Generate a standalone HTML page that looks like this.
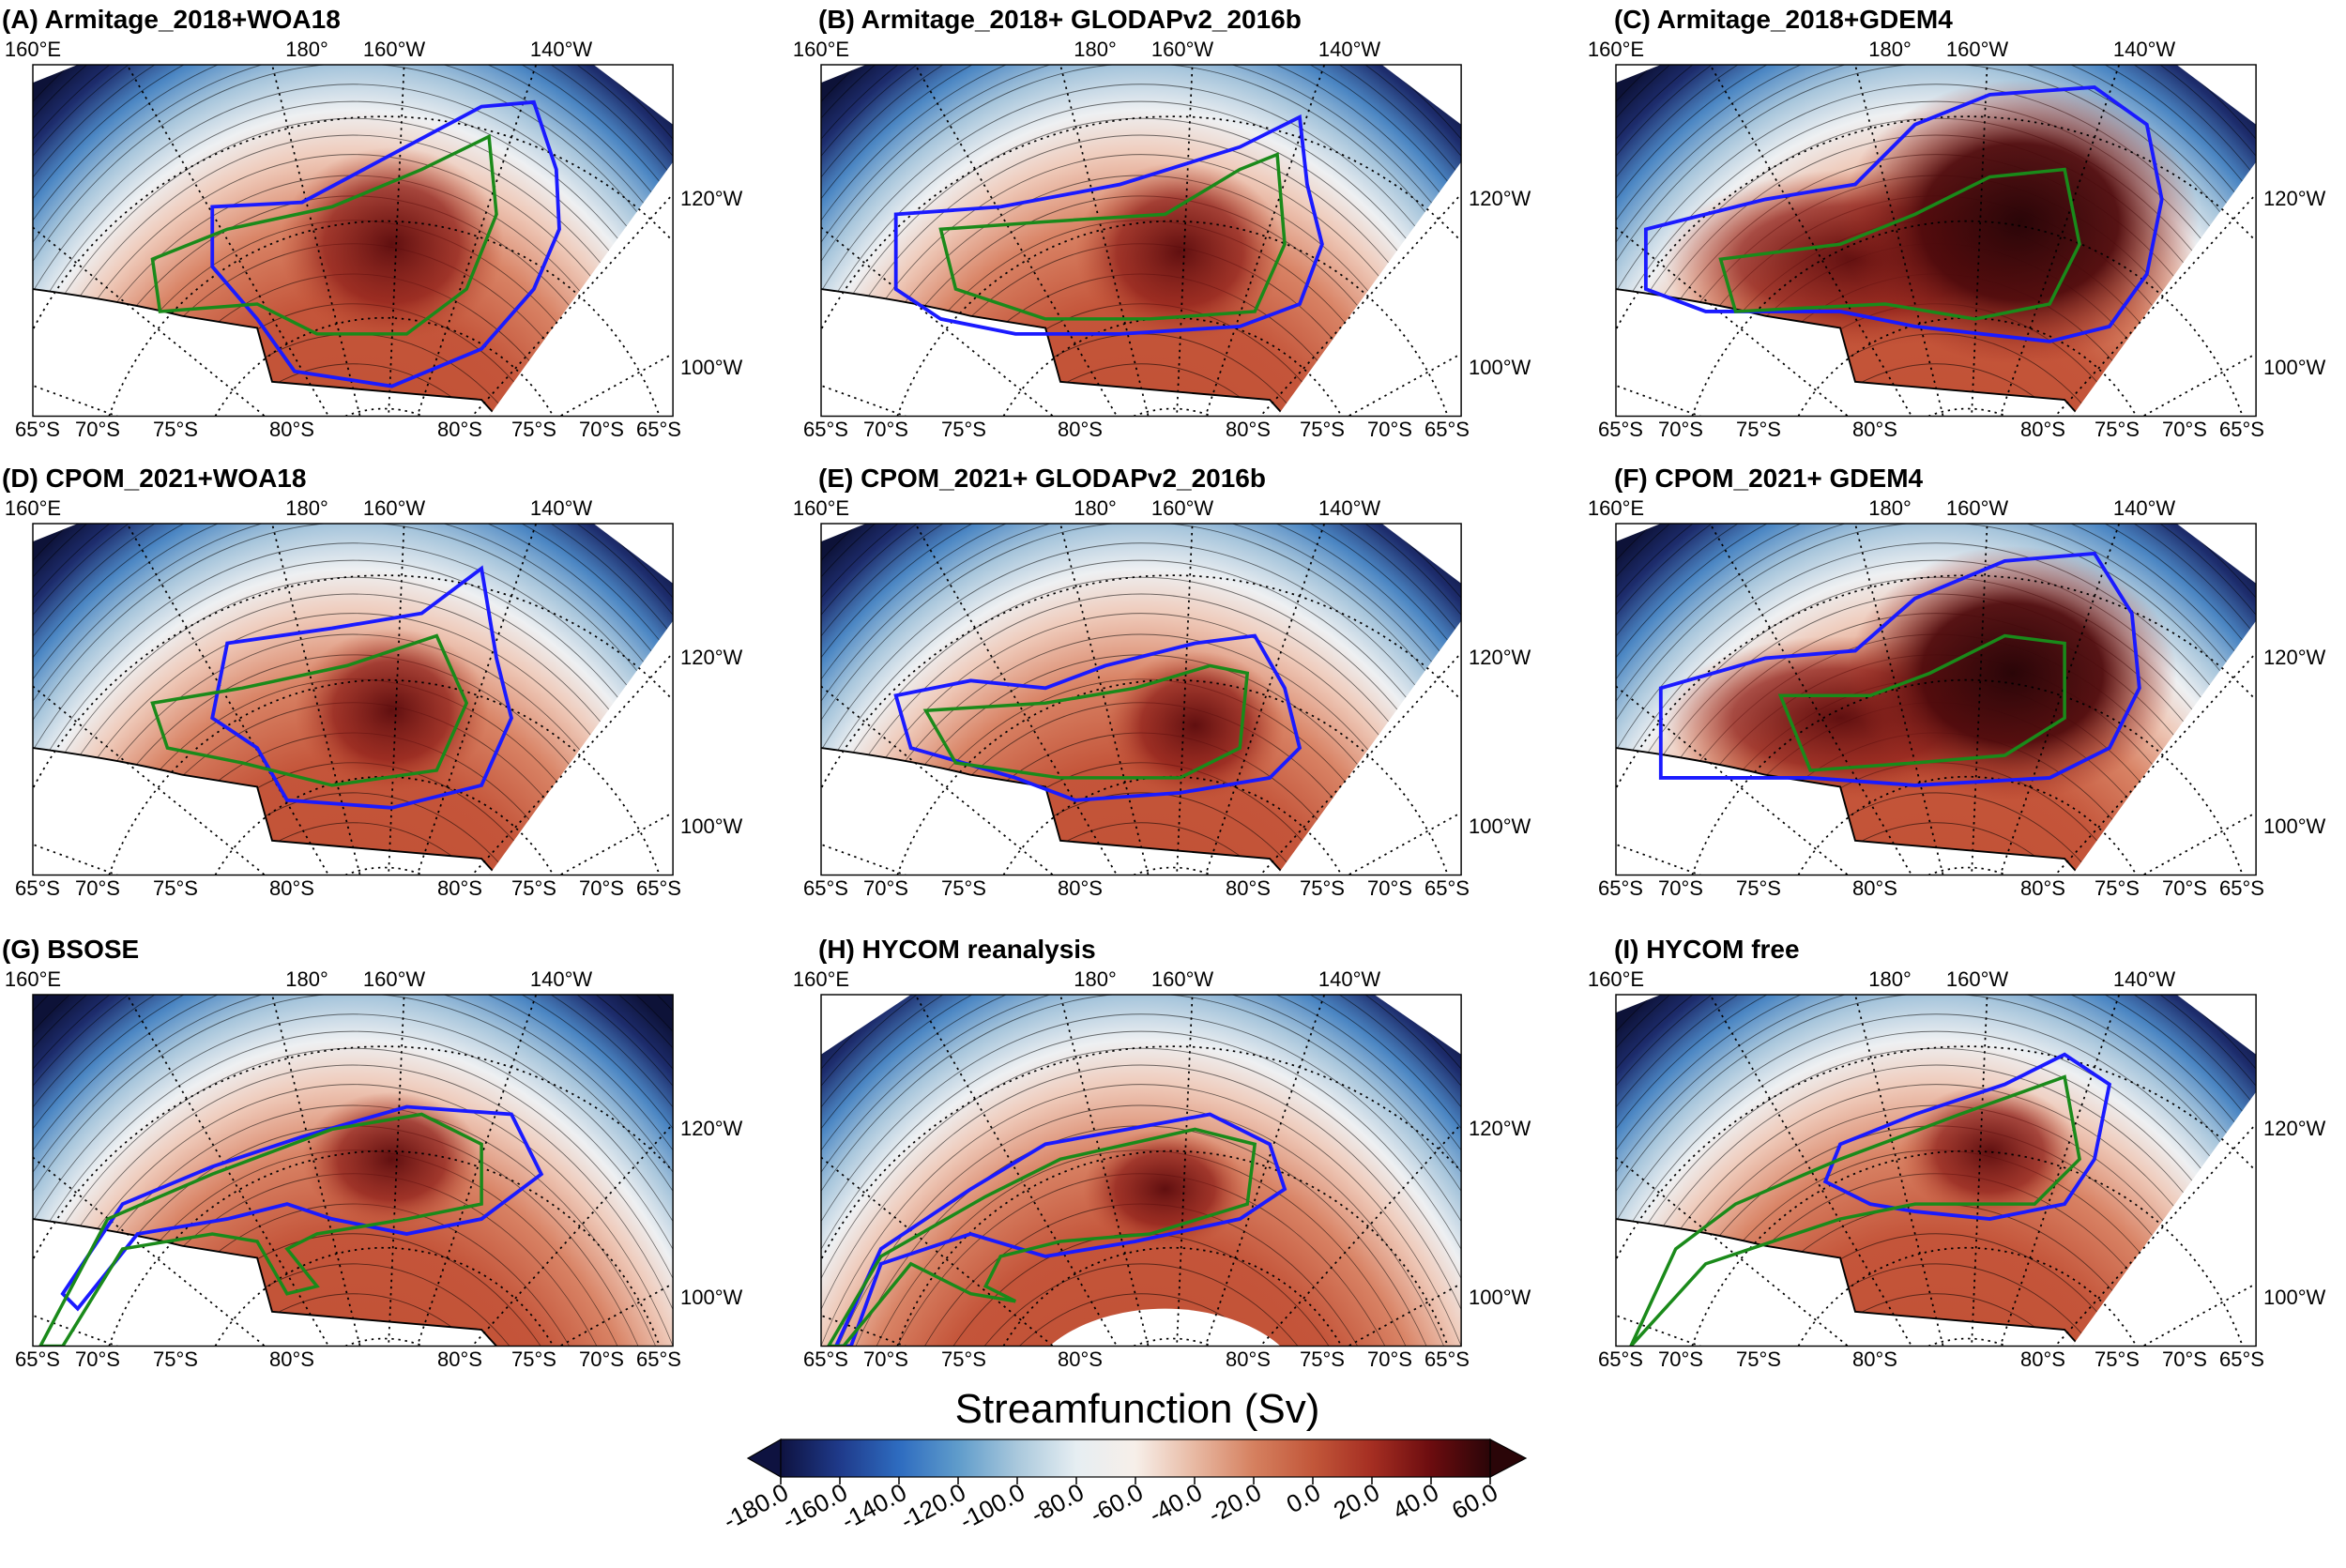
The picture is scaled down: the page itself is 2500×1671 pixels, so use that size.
<!DOCTYPE html>
<html><head><meta charset="utf-8"><style>
html,body{margin:0;padding:0;background:#fff;overflow:hidden;width:2500px;height:1671px;}
svg{display:block;font-family:"Liberation Sans",sans-serif;}
.t{font-weight:bold;font-size:28px;}
.l{font-size:22px;}
</style></head><body>
<svg width="2500" height="1671" viewBox="0 0 2500 1671" xmlns="http://www.w3.org/2000/svg">
<defs>
<radialGradient id="rg" gradientUnits="userSpaceOnUse" cx="214" cy="400" r="480" gradientTransform="translate(214,400) scale(0.72,1) translate(-214,-400)">
<stop offset="0" stop-color="#bc4a2c"/>
<stop offset="0.5" stop-color="#c4553a"/>
<stop offset="0.62" stop-color="#d98466"/>
<stop offset="0.71" stop-color="#efcbbb"/>
<stop offset="0.77" stop-color="#eef0f2"/>
<stop offset="0.83" stop-color="#a8c6dc"/>
<stop offset="0.89" stop-color="#4b86c3"/>
<stop offset="0.95" stop-color="#1d2c6c"/>
<stop offset="1" stop-color="#0d1238"/>
</radialGradient>
<radialGradient id="blob"><stop offset="0" stop-color="#5a0a0c" stop-opacity="0.95"/><stop offset="0.6" stop-color="#8a1a16" stop-opacity="0.7"/><stop offset="1" stop-color="#b8482e" stop-opacity="0"/></radialGradient>
<radialGradient id="blob2"><stop offset="0" stop-color="#2a0508"/><stop offset="0.55" stop-color="#4f0a0c" stop-opacity="0.95"/><stop offset="1" stop-color="#a02c22" stop-opacity="0"/></radialGradient>
<clipPath id="cw"><polygon points="0,12 30,0 375,0 428,40 428,65 305,235 0,235"/></clipPath>
<clipPath id="cb"><rect x="0" y="0" width="428" height="235"/></clipPath>
<linearGradient id="cbg" x1="0" x2="1" y1="0" y2="0">
<stop offset="0" stop-color="#0e1240"/><stop offset="0.083" stop-color="#1f3a8a"/><stop offset="0.167" stop-color="#2e6cc0"/><stop offset="0.25" stop-color="#5f9ccb"/><stop offset="0.333" stop-color="#a9c8dc"/><stop offset="0.417" stop-color="#e6eef2"/><stop offset="0.5" stop-color="#f7efe9"/><stop offset="0.583" stop-color="#e8b9a3"/><stop offset="0.667" stop-color="#d5805f"/><stop offset="0.75" stop-color="#c2573a"/><stop offset="0.833" stop-color="#a52e22"/><stop offset="0.917" stop-color="#6b0c0f"/><stop offset="1" stop-color="#2a0508"/>
</linearGradient>
<g id="base">
<rect x="0" y="0" width="428" height="235" fill="url(#rg)"/>
<g fill="none" stroke="#000" stroke-opacity="0.55" stroke-width="0.6" transform="translate(214,400) scale(0.72,1) translate(-214,-400)">
<path d="M94,240 A200 200 0 0 1 334,240"/>
<path d="M63,240 A220 220 0 0 1 365,240"/>
<path d="M35,240 A240 240 0 0 1 393,240"/>
<path d="M9,240 A260 260 0 0 1 419,240"/>
<path d="M-16,240 A280 280 0 0 1 444,240"/>
<path d="M-35,240 A296 296 0 0 1 463,240"/>
<path d="M-54,240 A312 312 0 0 1 482,240"/>
<path d="M-70,240 A326 326 0 0 1 498,240"/>
<path d="M-86,240 A340 340 0 0 1 514,240"/>
<path d="M-100,240 A352 352 0 0 1 528,240"/>
<path d="M-113,240 A364 364 0 0 1 541,240"/>
<path d="M-126,240 A376 376 0 0 1 554,240"/>
<path d="M-139,240 A388 388 0 0 1 567,240"/>
<path d="M-153,240 A400 400 0 0 1 581,240"/>
<path d="M-163,240 A410 410 0 0 1 591,240"/>
<path d="M-174,240 A420 420 0 0 1 602,240"/>
<path d="M-185,240 A430 430 0 0 1 613,240"/>
<path d="M-196,240 A440 440 0 0 1 624,240"/>
<path d="M-207,240 A450 450 0 0 1 635,240"/>
<path d="M-217,240 A460 460 0 0 1 645,240"/>
<path d="M-228,240 A470 470 0 0 1 656,240"/>
<path d="M-238,240 A480 480 0 0 1 666,240"/>
<path d="M-249,240 A490 490 0 0 1 677,240"/>
</g>
</g>
<g id="ant">
<path d="M0,150 Q60,158 100,168 L150,176 L160,212 L230,218 L300,224 L310,235 L0,235 Z" fill="#fff"/>
<path d="M0,150 Q60,158 100,168 L150,176 L160,212 L230,218 L300,224 L310,235" fill="none" stroke="#000" stroke-width="1.2"/>
</g>
<g id="grid" fill="none" stroke="#000" stroke-width="1.1" stroke-dasharray="1.5 3">
<line x1="235" y1="300" x2="-60" y2="60"/><line x1="235" y1="300" x2="40" y2="-40"/><line x1="235" y1="300" x2="150" y2="-40"/><line x1="235" y1="300" x2="250" y2="-40"/><line x1="235" y1="300" x2="350" y2="-40"/><line x1="235" y1="300" x2="470" y2="40"/><line x1="235" y1="300" x2="470" y2="170"/><line x1="235" y1="300" x2="-40" y2="200"/>
<path d="M209,235 A70 70 0 0 1 261,235"/>
<path d="M122,235 A130 130 0 0 1 348,235"/>
<path d="M51,235 A195 195 0 0 1 419,235"/>
<path d="M-22,235 A265 265 0 0 1 492,235"/>
</g>
<g id="lb" class="l">
<text x="0" y="60" text-anchor="middle">160°E</text><text x="292" y="60" text-anchor="middle">180°</text><text x="385" y="60" text-anchor="middle">160°W</text><text x="563" y="60" text-anchor="middle">140°W</text>
<text x="690" y="219">120°W</text><text x="690" y="399">100°W</text>
<text y="465" text-anchor="middle"><tspan x="5">65°S</tspan><tspan x="69">70°S</tspan><tspan x="152">75°S</tspan><tspan x="276">80°S</tspan><tspan x="455">80°S</tspan><tspan x="534">75°S</tspan><tspan x="606">70°S</tspan><tspan x="667">65°S</tspan></text>
</g>
</defs>
<rect width="2500" height="1671" fill="#fff"/>

<text class="t" x="2" y="30">(A) Armitage_2018+WOA18</text>
<text class="t" x="872" y="30">(B) Armitage_2018+ GLODAPv2_2016b</text>
<text class="t" x="1720" y="30">(C) Armitage_2018+GDEM4</text>
<text class="t" x="2" y="519">(D) CPOM_2021+WOA18</text>
<text class="t" x="872" y="519">(E) CPOM_2021+ GLODAPv2_2016b</text>
<text class="t" x="1720" y="519">(F) CPOM_2021+ GDEM4</text>
<text class="t" x="2" y="1021">(G) BSOSE</text>
<text class="t" x="872" y="1021">(H) HYCOM reanalysis</text>
<text class="t" x="1720" y="1021">(I) HYCOM free</text>

<g transform="translate(35,69) scale(1.5937)"><g clip-path="url(#cb)"><g clip-path="url(#cw)"><use href="#base"/><ellipse cx="240" cy="120" rx="75" ry="65" fill="url(#blob)"/><use href="#ant"/></g><use href="#grid"/>
<path d="M120,95 L180,92 L240,60 L300,28 L335,25 L350,70 L352,110 L335,150 L300,190 L240,215 L175,205 L150,170 L120,135 Z" fill="none" stroke="#1a1aff" stroke-width="2.4"/>
<path d="M80,130 L130,110 L200,95 L260,70 L305,48 L310,100 L290,150 L250,180 L190,180 L150,160 L85,165 Z" fill="none" stroke="#1a8a1a" stroke-width="2.2"/></g>
<rect x="0" y="0" width="428" height="235" fill="none" stroke="#000" stroke-width="0.9"/></g>
<g transform="translate(875,69) scale(1.5937)"><g clip-path="url(#cb)"><g clip-path="url(#cw)"><use href="#base"/><ellipse cx="240" cy="125" rx="70" ry="60" fill="url(#blob)"/><use href="#ant"/></g><use href="#grid"/>
<path d="M50,100 L120,95 L200,80 L280,55 L320,35 L325,80 L335,120 L320,160 L280,175 L200,180 L130,180 L80,170 L50,150 Z" fill="none" stroke="#1a1aff" stroke-width="2.4"/>
<path d="M80,110 L150,105 L230,100 L280,70 L305,60 L310,120 L290,165 L220,170 L150,170 L90,150 Z" fill="none" stroke="#1a8a1a" stroke-width="2.2"/></g>
<rect x="0" y="0" width="428" height="235" fill="none" stroke="#000" stroke-width="0.9"/></g>
<g transform="translate(1722,69) scale(1.5937)"><g clip-path="url(#cb)"><g clip-path="url(#cw)"><use href="#base"/><ellipse cx="160" cy="130" rx="130" ry="60" fill="url(#blob)"/><ellipse cx="270" cy="105" rx="120" ry="95" fill="url(#blob2)"/><use href="#ant"/></g><use href="#grid"/>
<path d="M20,110 L100,90 L160,80 L200,40 L250,20 L320,15 L355,40 L365,90 L355,140 L330,175 L290,185 L200,175 L150,165 L60,165 L20,150 Z" fill="none" stroke="#1a1aff" stroke-width="2.4"/>
<path d="M70,130 L150,120 L200,100 L250,75 L300,70 L310,120 L290,160 L240,170 L180,160 L80,165 Z" fill="none" stroke="#1a8a1a" stroke-width="2.2"/></g>
<rect x="0" y="0" width="428" height="235" fill="none" stroke="#000" stroke-width="0.9"/></g>
<g transform="translate(35,558) scale(1.5937)"><g clip-path="url(#cb)"><g clip-path="url(#cw)"><use href="#base"/><ellipse cx="240" cy="125" rx="65" ry="55" fill="url(#blob)"/><use href="#ant"/></g><use href="#grid"/>
<path d="M130,80 L200,70 L260,60 L300,30 L310,90 L320,130 L300,175 L240,190 L170,185 L150,150 L120,130 Z" fill="none" stroke="#1a1aff" stroke-width="2.4"/>
<path d="M80,120 L140,110 L210,95 L270,75 L290,120 L270,165 L200,175 L140,160 L90,150 Z" fill="none" stroke="#1a8a1a" stroke-width="2.2"/></g>
<rect x="0" y="0" width="428" height="235" fill="none" stroke="#000" stroke-width="0.9"/></g>
<g transform="translate(875,558) scale(1.5937)"><g clip-path="url(#cb)"><g clip-path="url(#cw)"><use href="#base"/><ellipse cx="250" cy="135" rx="60" ry="50" fill="url(#blob)"/><use href="#ant"/></g><use href="#grid"/>
<path d="M50,115 L100,105 L150,110 L190,95 L250,80 L290,75 L310,110 L320,150 L300,170 L240,180 L170,185 L130,170 L60,150 Z" fill="none" stroke="#1a1aff" stroke-width="2.4"/>
<path d="M70,125 L150,120 L210,110 L260,95 L285,100 L280,150 L240,170 L160,170 L90,160 Z" fill="none" stroke="#1a8a1a" stroke-width="2.2"/></g>
<rect x="0" y="0" width="428" height="235" fill="none" stroke="#000" stroke-width="0.9"/></g>
<g transform="translate(1722,558) scale(1.5937)"><g clip-path="url(#cb)"><g clip-path="url(#cw)"><use href="#base"/><ellipse cx="150" cy="130" rx="120" ry="55" fill="url(#blob)"/><ellipse cx="265" cy="100" rx="110" ry="85" fill="url(#blob2)"/><use href="#ant"/></g><use href="#grid"/>
<path d="M30,110 L100,90 L160,85 L200,50 L260,25 L320,20 L345,60 L350,110 L330,150 L290,170 L200,175 L130,170 L30,170 Z" fill="none" stroke="#1a1aff" stroke-width="2.4"/>
<path d="M110,115 L170,115 L210,100 L260,75 L300,80 L300,130 L260,155 L200,160 L130,165 Z" fill="none" stroke="#1a8a1a" stroke-width="2.2"/></g>
<rect x="0" y="0" width="428" height="235" fill="none" stroke="#000" stroke-width="0.9"/></g>
<g transform="translate(35,1060) scale(1.5937)"><g clip-path="url(#cb)"><use href="#base"/><ellipse cx="240" cy="110" rx="60" ry="45" fill="url(#blob)"/><use href="#ant"/><use href="#grid"/>
<path d="M20,200 L60,140 L120,115 L180,95 L250,75 L320,80 L340,120 L300,150 L250,160 L200,150 L170,140 L130,150 L70,160 L30,210 Z" fill="none" stroke="#1a1aff" stroke-width="2.4"/>
<path d="M5,235 L50,150 L120,120 L200,90 L260,80 L300,100 L300,140 L250,150 L190,160 L170,170 L190,195 L170,200 L150,165 L120,160 L60,170 L20,235 Z" fill="none" stroke="#1a8a1a" stroke-width="2.2"/></g>
<rect x="0" y="0" width="428" height="235" fill="none" stroke="#000" stroke-width="0.9"/></g>
<g transform="translate(875,1060) scale(1.5937)"><g clip-path="url(#cb)"><use href="#base"/><ellipse cx="230" cy="130" rx="55" ry="40" fill="url(#blob)"/><ellipse cx="230" cy="270" rx="95" ry="60" fill="#fff"/><polygon points="0,0 60,0 0,40" fill="#fff"/><polygon points="370,0 428,0 428,40" fill="#fff"/><use href="#grid"/>
<path d="M10,235 L40,170 L100,130 L150,100 L260,80 L300,100 L310,130 L280,150 L210,165 L150,175 L100,160 L40,180 L20,235 Z" fill="none" stroke="#1a1aff" stroke-width="2.4"/>
<path d="M5,235 L40,175 L110,135 L160,110 L250,90 L290,100 L285,140 L220,160 L160,165 L120,175 L110,195 L130,205 L100,200 L60,180 L15,235 Z" fill="none" stroke="#1a8a1a" stroke-width="2.2"/></g>
<rect x="0" y="0" width="428" height="235" fill="none" stroke="#000" stroke-width="0.9"/></g>
<g transform="translate(1722,1060) scale(1.5937)"><g clip-path="url(#cb)"><g clip-path="url(#cw)"><use href="#base"/><ellipse cx="250" cy="105" rx="60" ry="45" fill="url(#blob)"/><use href="#ant"/></g><use href="#grid"/>
<path d="M150,100 L200,80 L260,60 L300,40 L330,60 L320,110 L300,140 L250,150 L200,145 L170,140 L140,125 Z" fill="none" stroke="#1a1aff" stroke-width="2.4"/>
<path d="M40,170 L80,140 L150,110 L230,80 L300,55 L310,110 L280,140 L200,140 L150,150 L60,180 L10,235 Z" fill="none" stroke="#1a8a1a" stroke-width="2.2"/></g>
<rect x="0" y="0" width="428" height="235" fill="none" stroke="#000" stroke-width="0.9"/></g>

<use href="#lb" transform="translate(35,0)"/>
<use href="#lb" transform="translate(875,0)"/>
<use href="#lb" transform="translate(1722,0)"/>
<use href="#lb" transform="translate(35,489)"/>
<use href="#lb" transform="translate(875,489)"/>
<use href="#lb" transform="translate(1722,489)"/>
<use href="#lb" transform="translate(35,991)"/>
<use href="#lb" transform="translate(875,991)"/>
<use href="#lb" transform="translate(1722,991)"/>

<text x="1212" y="1516" text-anchor="middle" font-size="44">Streamfunction (Sv)</text>
<polygon points="797,1554 832,1534 832,1574" fill="#0e1240" stroke="#000" stroke-width="1.2"/>
<polygon points="1626,1554 1588,1534 1588,1574" fill="#2a0508" stroke="#000" stroke-width="1.2"/>
<rect x="832" y="1534" width="756" height="40" fill="url(#cbg)" stroke="#000" stroke-width="1.2"/>
<g stroke="#000" stroke-width="1.5">
<line x1="832" y1="1574" x2="832" y2="1582"/><line x1="895" y1="1574" x2="895" y2="1582"/><line x1="958" y1="1574" x2="958" y2="1582"/><line x1="1021" y1="1574" x2="1021" y2="1582"/><line x1="1084" y1="1574" x2="1084" y2="1582"/><line x1="1147" y1="1574" x2="1147" y2="1582"/><line x1="1210" y1="1574" x2="1210" y2="1582"/><line x1="1273" y1="1574" x2="1273" y2="1582"/><line x1="1336" y1="1574" x2="1336" y2="1582"/><line x1="1399" y1="1574" x2="1399" y2="1582"/><line x1="1462" y1="1574" x2="1462" y2="1582"/><line x1="1525" y1="1574" x2="1525" y2="1582"/><line x1="1588" y1="1574" x2="1588" y2="1582"/>
</g>
<g font-size="26" text-anchor="end">
<text transform="translate(842,1596) rotate(-28)">-180.0</text>
<text transform="translate(905,1596) rotate(-28)">-160.0</text>
<text transform="translate(968,1596) rotate(-28)">-140.0</text>
<text transform="translate(1031,1596) rotate(-28)">-120.0</text>
<text transform="translate(1094,1596) rotate(-28)">-100.0</text>
<text transform="translate(1157,1596) rotate(-28)">-80.0</text>
<text transform="translate(1220,1596) rotate(-28)">-60.0</text>
<text transform="translate(1283,1596) rotate(-28)">-40.0</text>
<text transform="translate(1346,1596) rotate(-28)">-20.0</text>
<text transform="translate(1409,1596) rotate(-28)">0.0</text>
<text transform="translate(1472,1596) rotate(-28)">20.0</text>
<text transform="translate(1535,1596) rotate(-28)">40.0</text>
<text transform="translate(1598,1596) rotate(-28)">60.0</text>
</g>
</svg>
</body></html>
